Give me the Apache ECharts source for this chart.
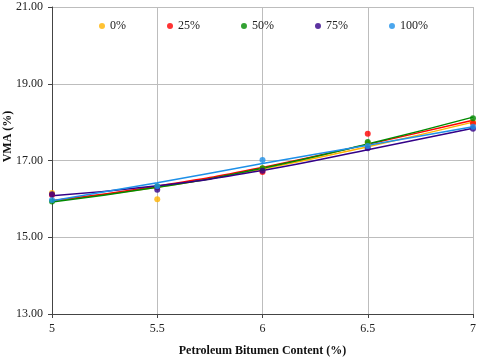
<!DOCTYPE html>
<html>
<head>
<meta charset="utf-8">
<script src="https://cdn.jsdelivr.net/npm/echarts@6/dist/echarts.min.js"></script>
<style>
  html, body { margin: 0; padding: 0; background: #fff; }
  #chart { width: 480px; height: 357px; }
</style>
</head>
<body>
<div id="chart"></div>
<script>
  // bitumen content (%)
  var xs = [5, 5.5, 6, 6.5, 7];
  var names = ['0%', '25%', '50%', '75%', '100%'];
  var colors = ['#FFB300', '#FF0000', '#008A00', '#330088', '#1E90E8'];

  // measured VMA points
  var vma0 = [16.15, 15.99, 16.80, 17.45, 18.00];
  var vma25 = [16.10, 16.30, 16.70, 17.70, 17.97];
  var vma50 = [15.93, 16.32, 16.80, 17.48, 18.10];
  var vma75 = [16.12, 16.24, 16.73, 17.32, 17.83];
  var vma100 = [15.97, 16.33, 17.01, 17.38, 17.88];

  // trendline values read at the same x positions
  var fit0 = [15.95, 16.30, 16.78, 17.36, 18.00];
  var fit25 = [15.95, 16.33, 16.82, 17.42, 18.05];
  var fit50 = [15.92, 16.30, 16.80, 17.43, 18.13];
  var fit75 = [16.08, 16.34, 16.74, 17.28, 17.84];
  var fit100 = [15.95, 16.42, 16.92, 17.40, 17.88];

  var yTicks = [13, 15, 17, 19, 21];

  var points = [vma0, vma25, vma50, vma75, vma100];
  var fits = [fit0, fit25, fit50, fit75, fit100];

  function pairs(vals) {
    return xs.map(function (x, i) { return [x, vals[i]]; });
  }

  var series = [];
  for (var i = 0; i < names.length; i++) {
    series.push({
      name: names[i] + ' trend',
      type: 'line',
      smooth: true,
      showSymbol: false,
      data: pairs(fits[i]),
      lineStyle: { color: colors[i], width: 1.5 },
      itemStyle: { color: colors[i] },
      z: 2
    });
  }
  for (var j = 0; j < names.length; j++) {
    series.push({
      name: names[j],
      type: 'scatter',
      symbolSize: 6,
      data: pairs(points[j]),
      itemStyle: { color: colors[j] },
      z: 3
    });
  }

  var myChart = echarts.init(document.getElementById('chart'));
  var font = 'Liberation Serif';
  var option = {
    animation: false,
    grid: { left: 52, right: 7, top: 7, bottom: 43, containLabel: false, outerBoundsMode: 'none' },
    legend: {
      data: names,
      left: 94,
      top: 15,
      icon: 'circle',
      itemWidth: 6,
      itemHeight: 6,
      itemGap: 41,
      textStyle: { fontFamily: font, fontSize: 12, color: '#222' }
    },
    xAxis: {
      type: 'value',
      min: 5,
      max: 7,
      interval: 0.5,
      name: 'Petroleum Bitumen Content (%)',
      nameLocation: 'middle',
      nameGap: 31,
      nameMoveOverlap: false,
      nameTextStyle: { fontFamily: font, fontSize: 12, fontWeight: 'bold', color: '#111' },
      axisLine: { lineStyle: { color: '#444' } },
      axisTick: { show: true, length: 4, lineStyle: { color: '#444' } },
      axisLabel: { fontFamily: font, fontSize: 12, color: '#222', margin: 9 },
      splitLine: { show: true, lineStyle: { color: '#bdbdbd' } }
    },
    yAxis: {
      type: 'value',
      min: yTicks[0],
      max: yTicks[yTicks.length - 1],
      interval: 2,
      name: 'VMA (%)',
      nameLocation: 'middle',
      nameGap: 38,
      nameMoveOverlap: false,
      nameTextStyle: {
        fontFamily: font, fontSize: 12, fontWeight: 'bold', color: '#111',
        padding: [0, 0, 0, 48]
      },
      axisLine: { show: true, lineStyle: { color: '#444' } },
      axisTick: { show: true, length: 4, lineStyle: { color: '#444' } },
      axisLabel: {
        fontFamily: font, fontSize: 12, color: '#222', margin: 9,
        formatter: function (v) { return v.toFixed(2); }
      },
      splitLine: { show: true, lineStyle: { color: '#bdbdbd' } }
    },
    series: series
  };
  myChart.setOption(option);
</script>
</body>
</html>
